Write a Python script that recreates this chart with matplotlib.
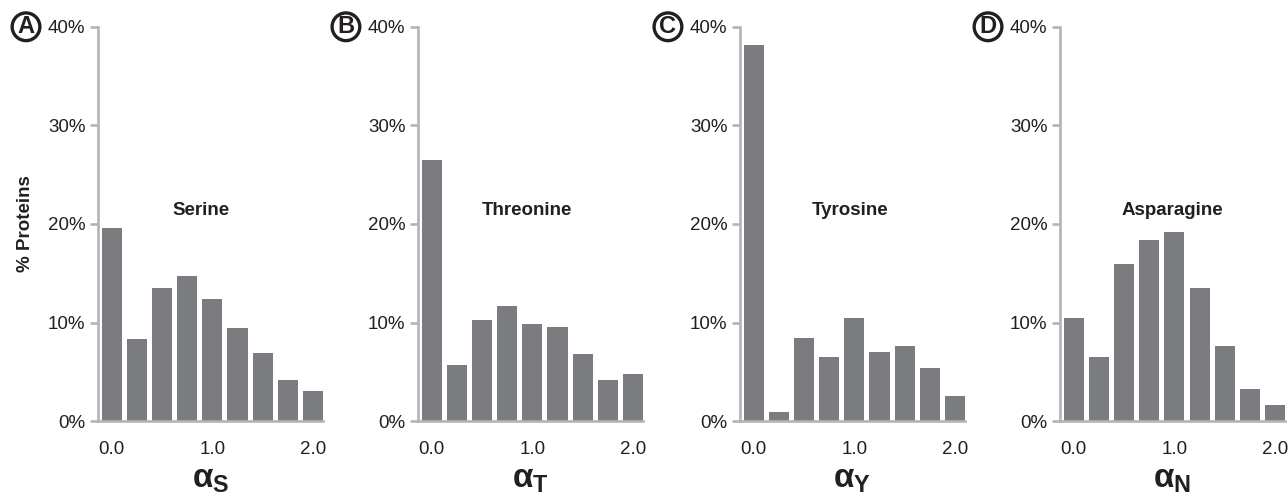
import numpy as np
import matplotlib
matplotlib.use("Agg")
import matplotlib.pyplot as plt

# ── données ────────────────────────────────────────────────────────────────────
alpha_bins = [0.0, 0.25, 0.5, 0.75, 1.0, 1.25, 1.5, 1.75, 2.0]
panel_letters = ["A", "B", "C", "D"]
residues = ["Serine", "Threonine", "Tyrosine", "Asparagine"]
subscripts = ["S", "T", "Y", "N"]

serine     = [19.6, 8.3, 13.5, 14.7, 12.4, 9.4, 6.9, 4.2, 3.1]
threonine  = [26.5, 5.7, 10.3, 11.7, 9.8, 9.5, 6.8, 4.2, 4.8]
tyrosine   = [38.2, 0.9, 8.4, 6.5, 10.5, 7.0, 7.6, 5.4, 2.5]
asparagine = [10.5, 6.5, 15.9, 18.4, 19.2, 13.5, 7.6, 3.3, 1.6]

y_ticks = [0, 10, 20, 30, 40]
x_ticks = [0.0, 1.0, 2.0]
x_ticklabels = ["0.0", "1.0", "2.0"]

series = [serine, threonine, tyrosine, asparagine]

# ── style ─────────────────────────────────────────────────────────────────────
plt.rcParams["font.family"] = ["Liberation Sans", "DejaVu Sans"]
plt.rcParams["mathtext.fontset"] = "custom"
plt.rcParams["mathtext.rm"] = "Liberation Sans"
plt.rcParams["mathtext.bf"] = "Liberation Sans:bold"
plt.rcParams["mathtext.it"] = "Liberation Sans:italic"

BAR = "#7b7c80"
SPINE = "#b4b4b4"
TXT = "#231f20"

fig = plt.figure(figsize=(12.88, 4.96), dpi=100)

lefts = [0.0761, 0.3245, 0.5745, 0.8230]
label_x = [0.458, 0.483, 0.49, 0.498]   # position du nom de l'acide aminé (fraction d'axe)

for i, vals in enumerate(series):
    ax = fig.add_axes([lefts[i], 0.151, 0.1747, 0.795])
    ax.bar(alpha_bins, vals, width=0.2, color=BAR, edgecolor="none")
    ax.set_xlim(-0.1375, 2.1)
    ax.set_ylim(0, 40)

    for s in ["top", "right"]:
        ax.spines[s].set_visible(False)
    for s in ["left", "bottom"]:
        ax.spines[s].set_color(SPINE)
        ax.spines[s].set_linewidth(1.9)

    ax.set_yticks(y_ticks)
    ax.set_yticklabels([f"{t}%" for t in y_ticks])
    ax.set_xticks(x_ticks)
    ax.set_xticklabels(x_ticklabels)
    ax.tick_params(axis="y", length=6, width=1.9, color=SPINE, pad=3,
                   labelsize=13.5, labelcolor=TXT)
    ax.tick_params(axis="x", length=0, pad=14, labelsize=13.5, labelcolor=TXT)

    ax.text(label_x[i], 0.535, residues[i], transform=ax.transAxes,
            ha="center", va="center", fontsize=13.5, fontweight="bold", color=TXT)

    ax.set_xlabel(r"$\mathbf{\alpha}_{\mathbf{%s}}$" % subscripts[i],
                  fontsize=24, color=TXT, labelpad=5)

    ax.text(-0.32, 1.0, panel_letters[i], transform=ax.transAxes,
            ha="center", va="center", fontsize=17, fontweight="bold", color=TXT,
            bbox=dict(boxstyle="circle,pad=0.1", fc="white", ec=TXT, lw=2.4))

    if i == 0:
        ax.set_ylabel("% Proteins", fontsize=13.5, fontweight="bold", color=TXT,
                      labelpad=10)

plt.savefig("out.png", dpi=100)
plt.close()
